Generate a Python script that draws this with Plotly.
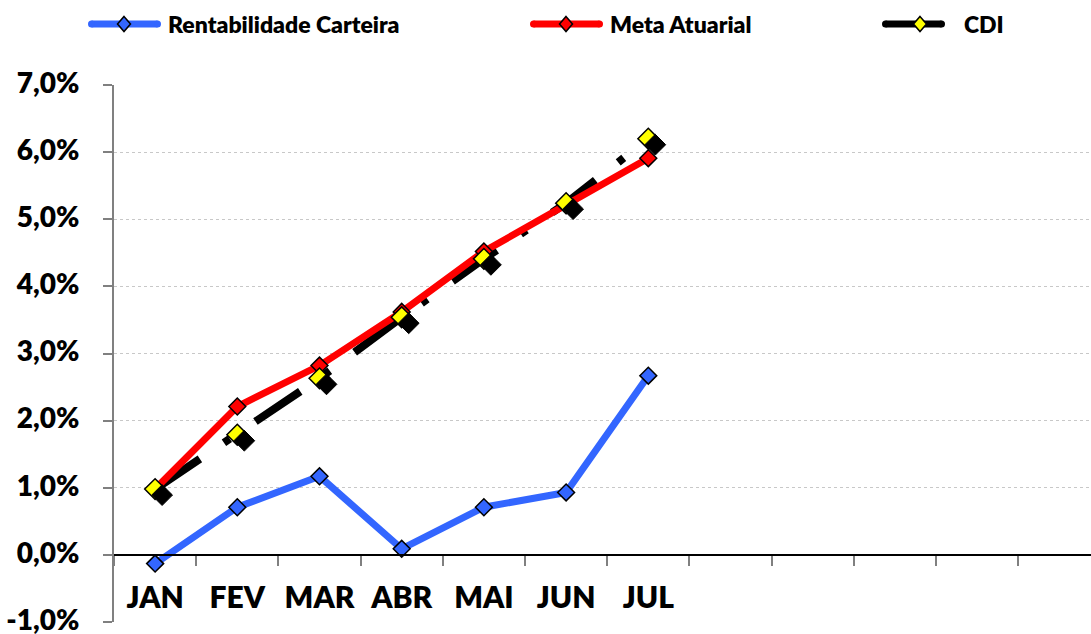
import plotly.graph_objects as go

# ---- data (percent) ----
months = ["JAN", "FEV", "MAR", "ABR", "MAI", "JUN", "JUL", "AGO", "SET", "OUT", "NOV", "DEZ"]
month_labels = ["JAN", "FEV", "MAR", "ABR", "MAI", "JUN", "JUL", "", "", "", "", ""]
carteira = [-0.13, 0.71, 1.17, 0.09, 0.71, 0.93, 2.67]
meta_atuarial = [0.98, 2.21, 2.82, 3.62, 4.52, 5.21, 5.91]
cdi = [0.98, 1.79, 2.63, 3.54, 4.41, 5.24, 6.20]
y_ticks = [-1, 0, 1, 2, 3, 4, 5, 6, 7]
y_tick_text = ["{:.1f}%".format(v).replace(".", ",") for v in y_ticks]

series_names = ["Rentabilidade Carteira", "Meta Atuarial", "CDI"]

# ---- layout geometry (pixels) ----
W, H = 1091, 634
PLOT_L, PLOT_T, PLOT_B = 114, 85, 622
CAT_PX = 82.2
Y_MIN, Y_MAX = -1, 7
x_dom = [PLOT_L / W, 1.0]
y_dom = [1 - PLOT_B / H, 1 - PLOT_T / H]
x_range = [-0.5, -0.5 + (W - PLOT_L) / CAT_PX]
y_px = (PLOT_B - PLOT_T) / (Y_MAX - Y_MIN)
zero_pos = y_dom[0] + (0 - Y_MIN) / (Y_MAX - Y_MIN) * (y_dom[1] - y_dom[0])

# drop-shadow offset for the CDI markers
SH_X, SH_Y = 7, 6
x2_range = [x_range[0] - SH_X / CAT_PX, x_range[1] - SH_X / CAT_PX]
y2_range = [Y_MIN + SH_Y / y_px, Y_MAX + SH_Y / y_px]

BLUE = "#3366FF"
RED = "#FF0000"
YELLOW = "#FFFF00"
FONT = "Lato, 'Open Sans', sans-serif"
WEIGHT = 800

x_cat = months[:len(cdi)]

fig = go.Figure()

# CDI marker shadow
fig.add_trace(go.Scatter(
    x=x_cat, y=cdi, xaxis="x2", yaxis="y2", mode="markers",
    marker=dict(symbol="diamond", size=16, color="black",
                line=dict(color="black", width=1)),
    showlegend=False, hoverinfo="skip"))

# CDI line
fig.add_trace(go.Scatter(
    x=x_cat, y=cdi, mode="lines",
    line=dict(color="black", width=8, dash="54px,29px,7px,31px"),
    showlegend=False, hoverinfo="skip"))

# Rentabilidade Carteira
fig.add_trace(go.Scatter(
    x=x_cat, y=carteira, mode="lines+markers", name=series_names[0],
    line=dict(color=BLUE, width=7),
    marker=dict(symbol="diamond", size=13, color=BLUE,
                line=dict(color="black", width=1.5)),
    showlegend=False))

# Meta Atuarial
fig.add_trace(go.Scatter(
    x=x_cat, y=meta_atuarial, mode="lines+markers", name=series_names[1],
    line=dict(color=RED, width=7),
    marker=dict(symbol="diamond", size=13, color=RED,
                line=dict(color="black", width=1.5)),
    showlegend=False))

# CDI markers on top
fig.add_trace(go.Scatter(
    x=x_cat, y=cdi, mode="markers", name=series_names[2],
    marker=dict(symbol="diamond", size=16, color=YELLOW,
                line=dict(color="black", width=1.5)),
    showlegend=False))

# ---- custom legend row ----
shapes = []
annotations = []
legend_y = 24
legend_items = [
    (series_names[0], BLUE, BLUE, 88, 161, 124, 166),
    (series_names[1], RED, RED, 530, 603, 566, 608),
    (series_names[2], "black", YELLOW, 882, 945, 920, 962),
]


def px_x(v):
    return v / W


def px_y(v):
    return 1 - v / H


LW = 7
for name, lcol, mcol, x0, x1, xm, xt in legend_items:
    a, b = x0 + LW / 2, x1 - LW / 2
    shapes.append(dict(type="line", xref="paper", yref="paper",
                       x0=px_x(a), x1=px_x(b),
                       y0=px_y(legend_y), y1=px_y(legend_y),
                       line=dict(color=lcol, width=LW)))
    for cx in (a, b):
        shapes.append(dict(type="circle", xref="paper", yref="paper",
                           x0=px_x(cx - LW / 2), x1=px_x(cx + LW / 2),
                           y0=px_y(legend_y + LW / 2), y1=px_y(legend_y - LW / 2),
                           fillcolor=lcol, line=dict(width=0)))
    hw, hh = 6.5, 7.5
    path = "M {} {} L {} {} L {} {} L {} {} Z".format(
        px_x(xm), px_y(legend_y - hh), px_x(xm + hw), px_y(legend_y),
        px_x(xm), px_y(legend_y + hh), px_x(xm - hw), px_y(legend_y))
    shapes.append(dict(type="path", xref="paper", yref="paper", path=path,
                       fillcolor=mcol, line=dict(color="black", width=1.5)))
    annotations.append(dict(text=name, xref="paper", yref="paper",
                            x=px_x(xt), y=px_y(legend_y), xanchor="left",
                            yanchor="middle", showarrow=False,
                            font=dict(family=FONT, size=23, color="black",
                                      weight=WEIGHT)))

fig.update_layout(
    width=W, height=H,
    margin=dict(l=0, r=0, t=0, b=0, autoexpand=False),
    paper_bgcolor="white", plot_bgcolor="white",
    shapes=shapes, annotations=annotations,
    showlegend=False,
    xaxis=dict(
        domain=x_dom, range=x_range, type="category", automargin=False,
        categoryorder="array", categoryarray=months,
        tickmode="array", tickvals=months, ticktext=month_labels,
        tickson="boundaries", ticks="outside", ticklen=10, tickcolor="#808080",
        tickwidth=1.5,
        showline=True, linecolor="black", linewidth=1.5,
        anchor="free", position=zero_pos,
        showgrid=False, zeroline=False,
        ticklabelstandoff=16, ticklabeloverflow="allow",
        tickfont=dict(family=FONT, size=30, color="black", weight=WEIGHT),
    ),
    yaxis=dict(
        domain=y_dom, range=[Y_MIN, Y_MAX], automargin=False,
        tickmode="array", tickvals=y_ticks, ticktext=y_tick_text,
        ticks="outside", ticklen=9, tickcolor="#808080", tickwidth=1.5,
        showline=True, linecolor="#808080", linewidth=2,
        showgrid=True, gridcolor="#C8C8C8", gridwidth=1, griddash="dot",
        zeroline=False,
        ticklabelstandoff=18, ticklabelshift=-2, ticklabeloverflow="allow",
        tickfont=dict(family=FONT, size=28, color="black", weight=WEIGHT),
    ),
    xaxis2=dict(domain=x_dom, range=x2_range, type="category", automargin=False,
                categoryorder="array", categoryarray=months,
                overlaying="x", visible=False),
    yaxis2=dict(domain=y_dom, range=y2_range, overlaying="y", automargin=False,
                visible=False, anchor="x2"),
)

fig.write_html("out.html")
